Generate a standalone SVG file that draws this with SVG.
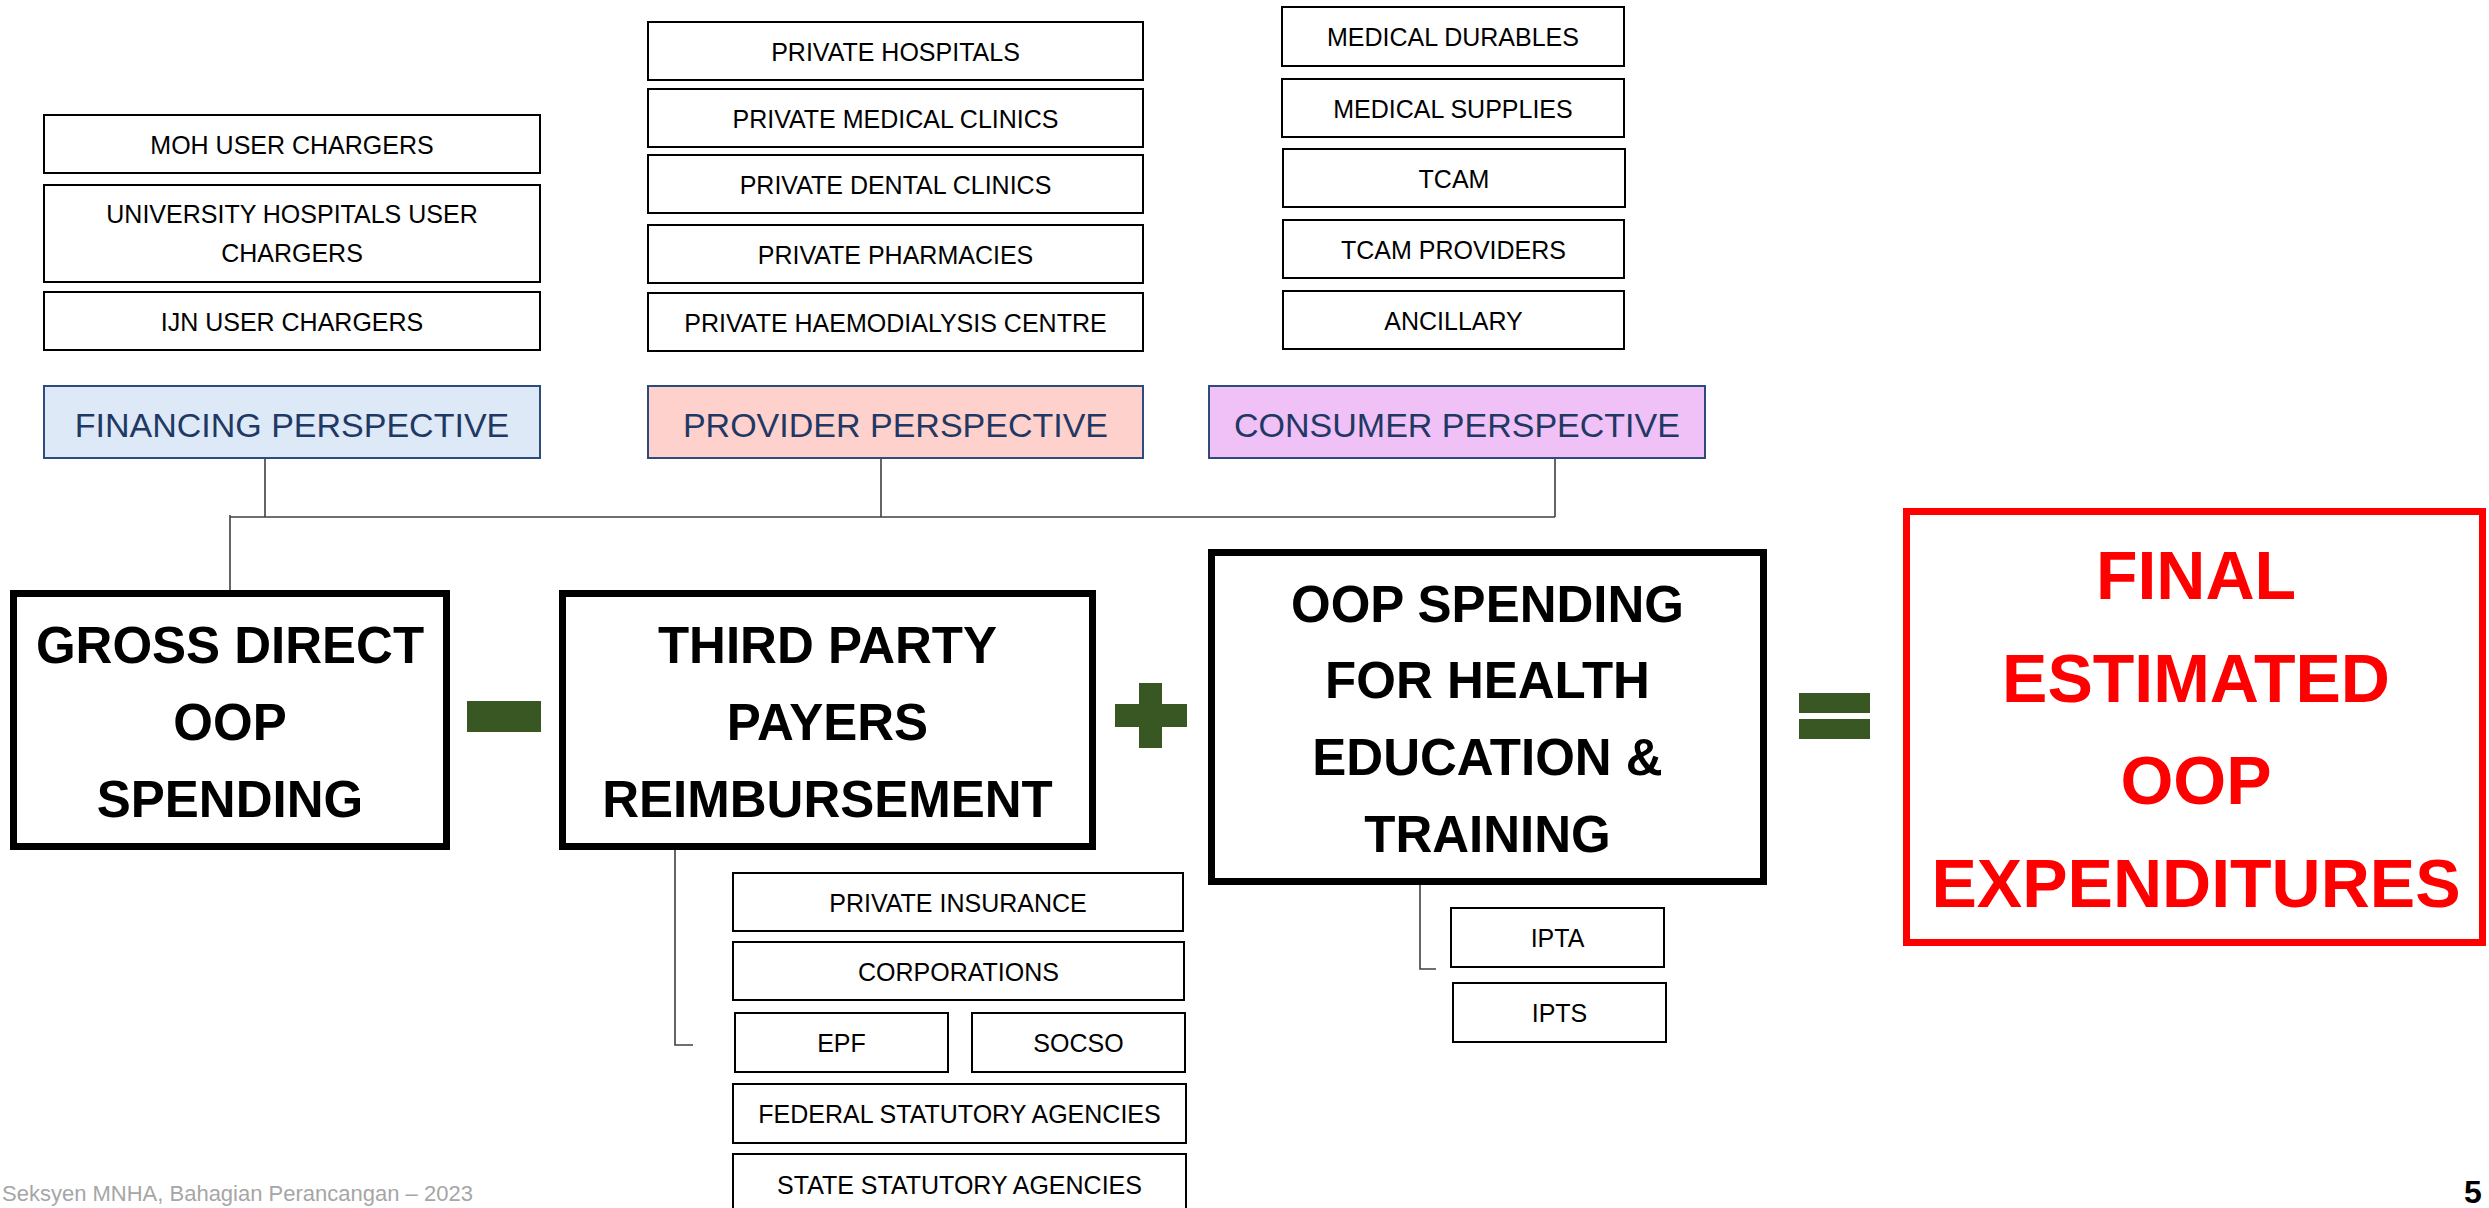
<svg xmlns="http://www.w3.org/2000/svg" width="2489" height="1208" viewBox="0 0 2489 1208">
<style>
.bx{fill:#ffffff;stroke:#000000;stroke-width:2}
.t{font-family:"Liberation Sans",Arial,sans-serif;font-size:25px;fill:#000000;text-anchor:middle}
.ps{stroke:#2f4b7c;stroke-width:2}
.pt{font-family:"Liberation Sans",Arial,sans-serif;font-size:34px;fill:#1f3864;text-anchor:middle}
.big{fill:#ffffff;stroke:#000000;stroke-width:7}
.bt{font-family:"Liberation Sans",Arial,sans-serif;font-size:51px;font-weight:bold;fill:#000000;text-anchor:middle}
.rt{font-family:"Liberation Sans",Arial,sans-serif;font-size:68px;font-weight:bold;fill:#ff0000;text-anchor:middle}
.op{fill:#385723}
.ln{fill:none;stroke:#404040;stroke-width:1.6}
</style>
<rect width="2489" height="1208" fill="#ffffff"/>

<g id="connectors">
<path class="ln" d="M265 458V517M881 458V517M1555 458V517M230 517H1555M230 515V590"/>
<path class="ln" d="M675 850V1045H693"/>
<path class="ln" d="M1420 885V969H1436"/>
</g>

<g id="moh-user-chargers"><rect class="bx" x="44" y="115" width="496" height="58"/><text class="t" x="292" y="154">MOH USER CHARGERS</text></g>
<g id="university-hospitals"><rect class="bx" x="44" y="185" width="496" height="97"/><text class="t" x="292" y="223">UNIVERSITY HOSPITALS USER</text><text class="t" x="292" y="262">CHARGERS</text></g>
<g id="ijn-user-chargers"><rect class="bx" x="44" y="292" width="496" height="58"/><text class="t" x="292" y="331">IJN USER CHARGERS</text></g>
<g id="financing-perspective"><rect class="ps" fill="#dde9f6" x="44" y="386" width="496" height="72"/><text class="pt" x="292" y="437">FINANCING PERSPECTIVE</text></g>

<g id="private-hospitals"><rect class="bx" x="648" y="22" width="495" height="58"/><text class="t" x="895.5" y="61">PRIVATE HOSPITALS</text></g>
<g id="private-medical-clinics"><rect class="bx" x="648" y="89" width="495" height="58"/><text class="t" x="895.5" y="128">PRIVATE MEDICAL CLINICS</text></g>
<g id="private-dental-clinics"><rect class="bx" x="648" y="155" width="495" height="58"/><text class="t" x="895.5" y="194">PRIVATE DENTAL CLINICS</text></g>
<g id="private-pharmacies"><rect class="bx" x="648" y="225" width="495" height="58"/><text class="t" x="895.5" y="264">PRIVATE PHARMACIES</text></g>
<g id="private-haemodialysis"><rect class="bx" x="648" y="293" width="495" height="58"/><text class="t" x="895.5" y="332">PRIVATE HAEMODIALYSIS CENTRE</text></g>
<g id="provider-perspective"><rect class="ps" fill="#ffd1cd" x="648" y="386" width="495" height="72"/><text class="pt" x="895.5" y="437">PROVIDER PERSPECTIVE</text></g>

<g id="medical-durables"><rect class="bx" x="1282" y="7" width="342" height="59"/><text class="t" x="1453" y="46">MEDICAL DURABLES</text></g>
<g id="medical-supplies"><rect class="bx" x="1282" y="79" width="342" height="58"/><text class="t" x="1453" y="118">MEDICAL SUPPLIES</text></g>
<g id="tcam"><rect class="bx" x="1283" y="149" width="342" height="58"/><text class="t" x="1454" y="188">TCAM</text></g>
<g id="tcam-providers"><rect class="bx" x="1283" y="220" width="341" height="58"/><text class="t" x="1453.5" y="259">TCAM PROVIDERS</text></g>
<g id="ancillary"><rect class="bx" x="1283" y="291" width="341" height="58"/><text class="t" x="1453.5" y="330">ANCILLARY</text></g>
<g id="consumer-perspective"><rect class="ps" fill="#f0c1f7" x="1209" y="386" width="496" height="72"/><text class="pt" x="1457" y="437">CONSUMER PERSPECTIVE</text></g>

<g id="gross-direct-oop"><rect class="big" x="13.5" y="593.5" width="433" height="253"/><text class="bt" x="230" y="663">GROSS DIRECT</text><text class="bt" x="230" y="740">OOP</text><text class="bt" x="230" y="817">SPENDING</text></g>
<g id="minus"><rect class="op" x="467" y="701" width="74" height="31"/></g>
<g id="third-party"><rect class="big" x="562.5" y="593.5" width="530" height="253"/><text class="bt" x="827.5" y="663">THIRD PARTY</text><text class="bt" x="827.5" y="740">PAYERS</text><text class="bt" x="827.5" y="817">REIMBURSEMENT</text></g>
<g id="plus"><rect class="op" x="1115" y="704" width="72" height="23"/><rect class="op" x="1139" y="683" width="23" height="65"/></g>
<g id="oop-health-education"><rect class="big" x="1211.5" y="552.5" width="552" height="329"/><text class="bt" x="1487.5" y="622">OOP SPENDING</text><text class="bt" x="1487.5" y="698">FOR HEALTH</text><text class="bt" x="1487.5" y="775">EDUCATION &amp;</text><text class="bt" x="1487.5" y="852">TRAINING</text></g>
<g id="equals"><rect class="op" x="1799" y="693" width="71" height="20"/><rect class="op" x="1799" y="719" width="71" height="20"/></g>
<g id="final-estimated"><rect fill="#ffffff" stroke="#ff0000" stroke-width="7" x="1906.5" y="511.5" width="576" height="431"/><text class="rt" x="2196" y="599">FINAL</text><text class="rt" x="2196" y="702">ESTIMATED</text><text class="rt" x="2196" y="804">OOP</text><text class="rt" x="2196" y="907">EXPENDITURES</text></g>

<g id="private-insurance"><rect class="bx" x="733" y="873" width="450" height="58"/><text class="t" x="958" y="912">PRIVATE INSURANCE</text></g>
<g id="corporations"><rect class="bx" x="733" y="942" width="451" height="58"/><text class="t" x="958.5" y="981">CORPORATIONS</text></g>
<g id="epf"><rect class="bx" x="735" y="1013" width="213" height="59"/><text class="t" x="841.5" y="1052">EPF</text></g>
<g id="socso"><rect class="bx" x="972" y="1013" width="213" height="59"/><text class="t" x="1078.5" y="1052">SOCSO</text></g>
<g id="federal-statutory"><rect class="bx" x="733" y="1084" width="453" height="59"/><text class="t" x="959.5" y="1123">FEDERAL STATUTORY AGENCIES</text></g>
<g id="state-statutory"><rect class="bx" x="733" y="1154" width="453" height="70"/><text class="t" x="959.5" y="1194">STATE STATUTORY AGENCIES</text></g>

<g id="ipta"><rect class="bx" x="1451" y="908" width="213" height="59"/><text class="t" x="1557.5" y="947">IPTA</text></g>
<g id="ipts"><rect class="bx" x="1453" y="983" width="213" height="59"/><text class="t" x="1559.5" y="1022">IPTS</text></g>

<text x="2" y="1201" font-family="'Liberation Sans',Arial,sans-serif" font-size="22" fill="#a6a6a6">Seksyen MNHA, Bahagian Perancangan – 2023</text>
<text x="2464" y="1203" font-family="'Liberation Sans',Arial,sans-serif" font-size="32" font-weight="bold" fill="#000000">5</text>
</svg>
